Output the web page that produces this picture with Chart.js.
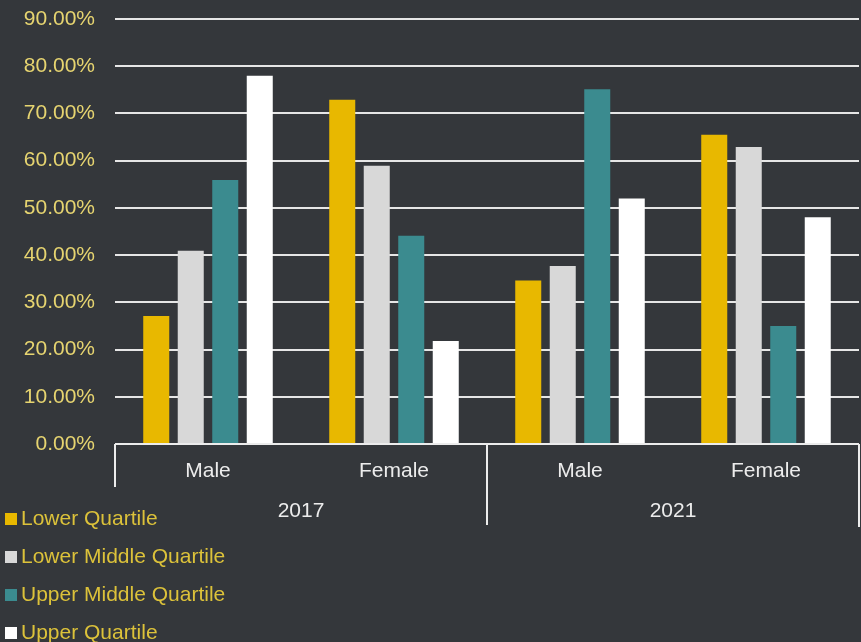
<!DOCTYPE html>
<html>
<head>
<meta charset="utf-8">
<script src="https://cdn.jsdelivr.net/npm/chart.js@4.4.1/dist/chart.umd.min.js"></script>
<style>
  html, body { margin: 0; padding: 0; background: #34373b; }
  #wrap { width: 861px; height: 642px; position: relative; }
</style>
</head>
<body>
<div id="wrap"><canvas id="chart"></canvas></div>
<script>
// categories (inner level) and their year groups (outer level)
const genders = ['Male', 'Female', 'Male', 'Female']
const years = ['2017', '2021']
const seriesNames = ['Lower Quartile', 'Lower Middle Quartile', 'Upper Middle Quartile', 'Upper Quartile']

// values in percent
const lowerQuartile = [27.1, 72.9, 34.6, 65.5]
const lowerMiddleQuartile = [40.9, 58.9, 37.7, 62.9]
const upperMiddleQuartile = [55.9, 44.1, 75.1, 25.0]
const upperQuartile = [78.0, 21.8, 52.0, 48.0]

const yMin = 0
const yMax = 90
const yStep = 10

const barColors = ['#e8b800', '#d8d8d8', '#3b8b8f', '#ffffff']
const fontFamily = '"Liberation Sans", Arial, sans-serif'

const seriesValues = [lowerQuartile, lowerMiddleQuartile, upperMiddleQuartile, upperQuartile]

// lines of the two-level category axis (Excel style)
const bracketLines = {
    id: 'bracketLines',
    afterDraw(chart) {
        const ctx = chart.ctx
        const x = chart.scales.x
        const area = chart.chartArea
        const mid = (x.getPixelForValue(1) + x.getPixelForValue(2)) / 2
        ctx.save()
        ctx.strokeStyle = '#ececec'
        ctx.lineWidth = 2
        ctx.beginPath()
        ctx.moveTo(area.left, area.bottom)
        ctx.lineTo(area.right, area.bottom)
        ctx.moveTo(area.left, area.bottom)
        ctx.lineTo(area.left, area.bottom + 43)
        ctx.moveTo(mid, area.bottom)
        ctx.lineTo(mid, area.bottom + 81)
        ctx.moveTo(area.right, area.bottom)
        ctx.lineTo(area.right, area.bottom + 83)
        ctx.stroke()
        ctx.restore()
    }
}

// legend stacked in the bottom-left corner
const sideLegend = {
    id: 'sideLegend',
    afterDraw(chart) {
        const ctx = chart.ctx
        const top = chart.chartArea.bottom + 75
        ctx.save()
        ctx.font = '21px ' + fontFamily
        ctx.textBaseline = 'middle'
        ctx.textAlign = 'left'
        chart.data.datasets.forEach(function(ds, i) {
            const y = top + i * 38
            ctx.fillStyle = ds.backgroundColor
            ctx.fillRect(5, y - 6, 12, 12)
            ctx.fillStyle = '#dcc23a'
            ctx.fillText(ds.label, 21, y)
        })
        ctx.restore()
    }
}

new Chart(document.getElementById('chart'), {
    type: 'bar',
    data: {
        labels: genders,
        datasets: seriesNames.map(function(name, i) {
            return {
                label: name,
                data: seriesValues[i],
                backgroundColor: barColors[i],
                borderWidth: 0,
                categoryPercentage: 0.742,
                barPercentage: 0.754,
                xAxisID: 'x'
            }
        })
    },
    options: {
        responsive: true,
        maintainAspectRatio: false,
        animation: false,
        layout: { padding: { top: 19, right: 2, bottom: 114, left: 0 } },
        plugins: {
            legend: { display: false },
            tooltip: { enabled: false }
        },
        scales: {
            y: {
                min: yMin,
                max: yMax,
                afterFit: function(scale) {
                    scale.width = 115
                    scale.paddingTop = 0
                    scale.paddingBottom = 0
                },
                ticks: {
                    stepSize: yStep,
                    padding: 20,
                    color: '#e6d470',
                    font: { family: fontFamily, size: 21 },
                    callback: function(v) { return v.toFixed(2) + '%' }
                },
                grid: { color: '#e6e6e6', lineWidth: 2, drawTicks: false },
                border: { display: false }
            },
            x: {
                type: 'category',
                labels: genders,
                afterFit: function(scale) { scale.height = 44 },
                grid: { display: false, drawTicks: false },
                border: { display: false },
                ticks: {
                    padding: 15,
                    color: '#ececec',
                    font: { family: fontFamily, size: 21 }
                }
            },
            x2: {
                type: 'category',
                position: 'bottom',
                labels: years,
                offset: true,
                afterFit: function(scale) { scale.height = 40 },
                grid: { display: false, drawTicks: false },
                border: { display: false },
                ticks: {
                    padding: 11,
                    color: '#ececec',
                    font: { family: fontFamily, size: 21 }
                }
            }
        }
    },
    plugins: [bracketLines, sideLegend]
})
</script>
</body>
</html>
